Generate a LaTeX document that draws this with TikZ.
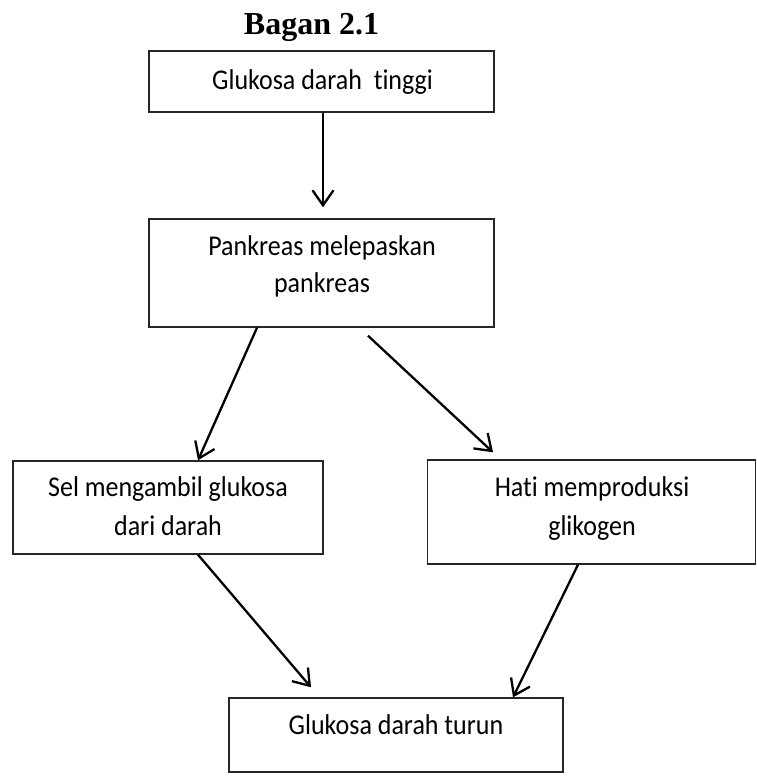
\documentclass[tikz,border=0pt]{standalone}
\usepackage{graphicx}
\usepackage{fontspec}
\setmainfont{Carlito}[Ligatures={NoCommon}]
\newfontfamily\titlefont{Liberation Serif}
\usetikzlibrary{arrows.meta,calc}
\newcommand{\tall}[1]{\scalebox{1}[1.1]{#1}}
\begin{document}
\begin{tikzpicture}[x=1pt,y=-1pt,
  box/.style={draw=black!85, line width=1.4pt, inner sep=0pt},
  txt/.style={anchor=base, inner sep=0pt, font=\fontsize{26}{31}\selectfont},
  conn/.style={line width=2.3pt, -{Straight Barb[length=15pt,width=21pt,line width=2.3pt]}}]
\useasboundingbox (0,0) rectangle (757,776);
% title
\node[anchor=base, inner sep=0pt, font=\titlefont\bfseries\fontsize{32}{38}\selectfont] (title) at (311.5,34.5) {Bagan 2.1};
% boxes
\node[box, minimum width=345pt, minimum height=61pt] (b1) at (321.5,81.5) {};
\node[box, minimum width=345pt, minimum height=108pt] (b2) at (321.5,273) {};
\node[box, minimum width=310pt, minimum height=93pt] (b3) at (168,507.5) {};
\node[box, minimum width=328pt, minimum height=104pt] (b4) at (591.5,512) {};
\node[box, minimum width=334pt, minimum height=74pt] (b5) at (396,735) {};
% texts
\node[txt] (t1) at (322.5,89) {\tall{Glukosa darah~ tinggi}};
\node[txt] (t2a) at (322,255) {\tall{Pankreas melepaskan}};
\node[txt] (t2b) at (322,292) {\tall{pankreas}};
\node[txt] (t3a) at (168,496) {\tall{Sel mengambil glukosa}};
\node[txt] (t3b) at (168,535) {\tall{dari darah}};
\node[txt] (t4a) at (592,496) {\tall{Hati memproduksi}};
\node[txt] (t4b) at (592,535) {\tall{glikogen}};
\node[txt] (t5) at (396,734.5) {\tall{Glukosa darah turun}};
% connector ends
\coordinate (e1) at ($(b2.north)+(1.5,-11)$);
\coordinate (s3) at ($(b2.south)+(46.5,8)$);
\coordinate (e3) at ($(b4.north)+(-98.5,-7)$);
\coordinate (e4) at ($(b5.north)+(-85,-10)$);
% connectors
\draw[conn] ($(b1.south)+(1.5,0)$) -- (e1);
\draw[conn] ($(b2.south)+(-64.5,0)$) -- ($(b3.north)+(30,0)$);
\draw[conn] (s3) -- (e3);
\draw[conn] ($(b3.south)+(30,0)$) -- (e4);
\draw[conn] ($(b4.south)+(-13.5,0)$) -- ($(b5.north)+(117,0)$);
\end{tikzpicture}
\end{document}
